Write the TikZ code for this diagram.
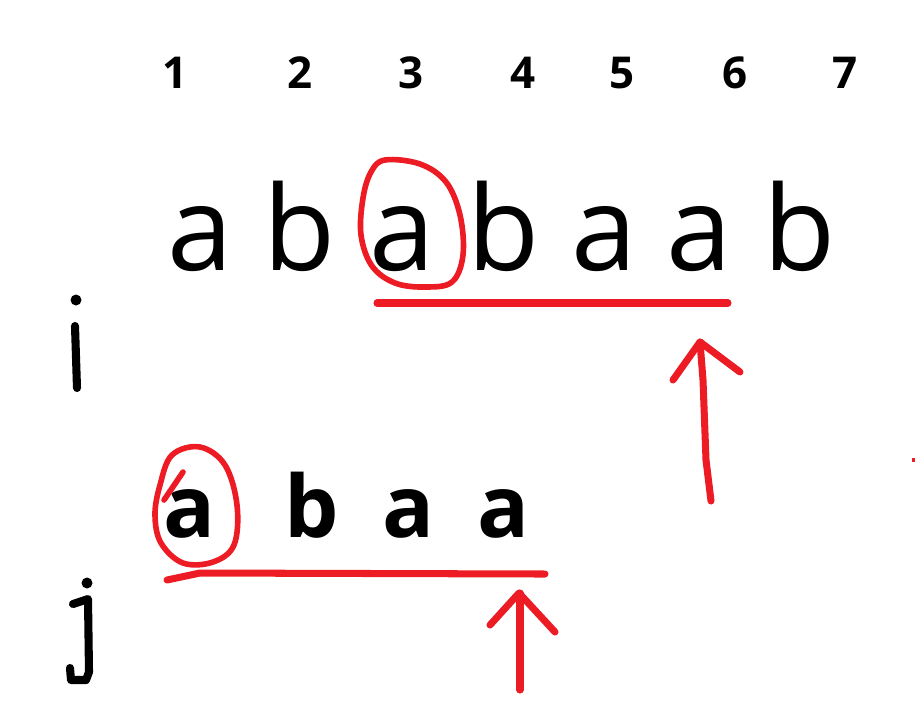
\documentclass[tikz,border=0pt]{standalone}
\usepackage{fontspec}
\newfontfamily\sheetfont{Open Sans}
\definecolor{paintred}{RGB}{237,28,36}
\tikzset{
  digit/.style={anchor=base, inner sep=0pt, font=\sheetfont\bfseries\fontsize{25}{25}\selectfont},
  letter/.style={anchor=base, inner sep=0pt, font=\sheetfont\fontsize{67}{67}\selectfont},
  pattern/.style={anchor=base, inner sep=0pt, font=\sheetfont\bfseries\fontsize{49}{49}\selectfont},
  pen/.style={line width=4.6pt, line cap=round, line join=round},
  redpen/.style={paintred, line width=4pt, line cap=round, line join=round},
}
\begin{document}
\begin{tikzpicture}[x=0.02cm, y=-0.02cm]
    \useasboundingbox (0,0) rectangle (915,701);
    % positions
    \foreach \n/\x in {1/175,2/300,3/411,4/523,5/622,6/735,7/845}
    {
      \node [digit] (n\n) at (\x, 88) {\n};
    }
    % text
    \foreach \n/\x/\c in {1/200/a,2/300/b,3/402/a,4/504/b,5/604/a,6/699/a,7/800/b}
    {
      \node [letter] (t\n) at (\x, 270) {\c};
    }
    % pattern
    \foreach \n/\x/\c in {1/189/a,2/312/b,3/408/a,4/503/a}
    {
      \node [pattern] (p\n) at (\x, 537) {\c};
    }
    % i and j, by hand
    \fill (76,300) circle (5.5);
    \draw [pen] (75,326) -- (77,388);
    \fill (87,583) circle (5.5);
    \draw [pen] (73,604) -- (88,599) -- (89,672) -- (86,680) -- (71,680) -- (70,668);
    % marks on the text
    \draw [redpen, line width=3.2pt] plot [smooth cycle, tension=0.6] coordinates
      {(385,160) (420,164) (446,182) (460,215) (463,255) (452,282) (425,287) (395,283) (372,266) (361,235) (363,198) (371,172)};
    \draw [redpen] (377,303) -- (728,303);
    \draw [redpen] (711,501) -- (706,460) -- (703,380) -- (700,342);
    \draw [redpen] (673,380) -- (700,342) -- (740,372);
    % marks on the pattern
    \draw [redpen, line width=3.2pt] plot [smooth cycle, tension=0.6] coordinates
      {(172,455) (200,447) (225,465) (237,505) (234,545) (213,562) (183,563) (161,543) (155,515) (160,485)};
    \draw [redpen, line width=3.2pt] (183,472) -- (164,500);
    \draw [redpen] (167,580) -- (200,573) -- (545,574);
    \draw [redpen] (520,690) -- (520,593);
    \draw [redpen] (490,625) -- (519,593) -- (555,632);
    \fill [paintred] (912,458) rectangle (915,462);
  \end{tikzpicture}
\end{document}
